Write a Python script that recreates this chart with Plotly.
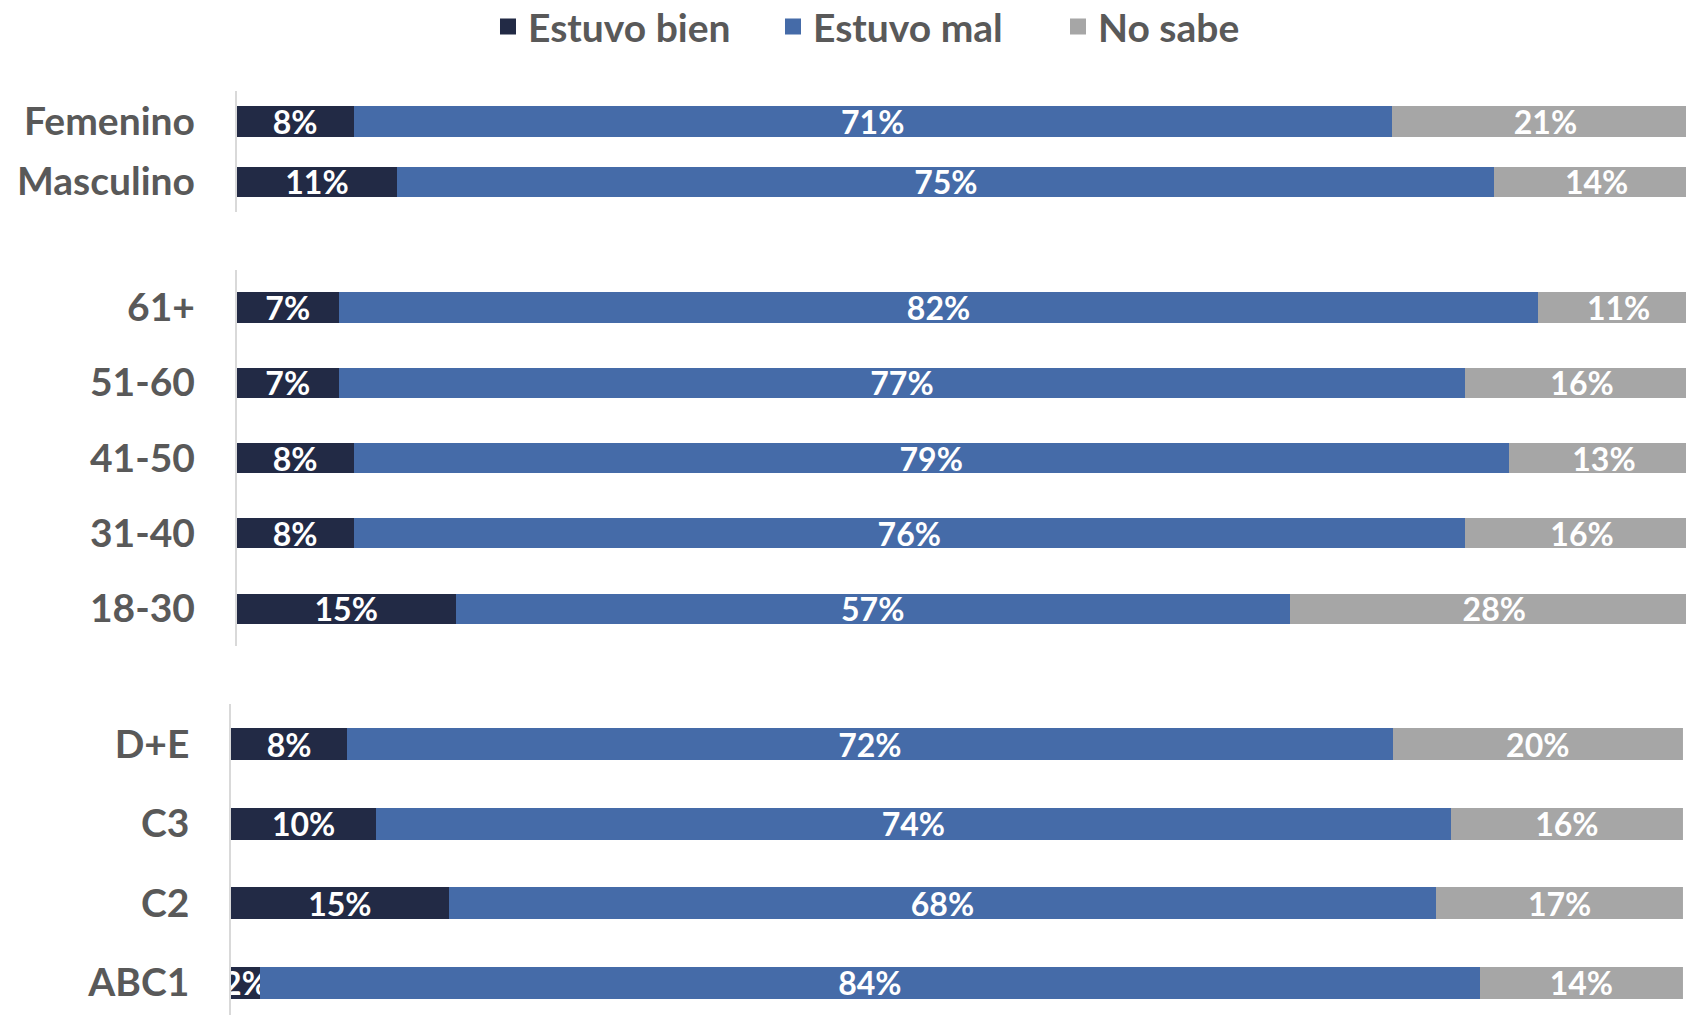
import plotly.graph_objects as go

# ---- data ----
series_names = ["Estuvo bien", "Estuvo mal", "No sabe"]
series_colors = ["#222A45", "#456BA8", "#A6A6A6"]

gender_cats = ["Femenino", "Masculino"]
gender_bien = [8, 11]
gender_mal = [71, 75]
gender_nosabe = [21, 14]

age_cats = ["61+", "51-60", "41-50", "31-40", "18-30"]
age_bien = [7, 7, 8, 8, 15]
age_mal = [82, 77, 79, 76, 57]
age_nosabe = [11, 16, 13, 16, 28]

gse_cats = ["D+E", "C3", "C2", "ABC1"]
gse_bien = [8, 10, 15, 2]
gse_mal = [72, 74, 68, 84]
gse_nosabe = [20, 16, 17, 14]

groups = [
    (gender_cats, [gender_bien, gender_mal, gender_nosabe]),
    (age_cats, [age_bien, age_mal, age_nosabe]),
    (gse_cats, [gse_bien, gse_mal, gse_nosabe]),
]

# ---- layout geometry ----
W, H = 1686, 1015
FONT = "Lato"
LABEL_GRAY = "#595959"
bar_widths = [0.5, 0.4, 0.4]
x_domains = [[0.1403, 1.0], [0.1403, 1.0], [0.1370, 0.9982]]
x_ranges = [[0, 99.11], [0, 99.11], [0, 100]]
y_domains = [[0.7913, 0.9100], [0.3633, 0.7341], [0.0, 0.3062]]
y_ranges = [[1.5, -0.5], [4.5, -0.5], [3.405, -0.5]]

fig = go.Figure()
for gi, (cats, vals) in enumerate(groups):
    suffix = "" if gi == 0 else str(gi + 1)
    for si, name in enumerate(series_names):
        v = vals[si]
        fig.add_trace(go.Bar(
            y=cats, x=v, orientation="h", name=name,
            xaxis="x" + suffix, yaxis="y" + suffix,
            marker=dict(color=series_colors[si], line=dict(width=0)),
            width=bar_widths[gi],
            text=[f"{n}%" for n in v],
            textposition="inside", insidetextanchor="middle", textangle=0,
            textfont=dict(family=FONT, size=32, color="white", weight=700),
            showlegend=False, legendgroup=name,
            hoverinfo="skip",
        ))

# legend entries (square swatches, no data drawn)
for si, name in enumerate(series_names):
    fig.add_trace(go.Scatter(
        x=[None], y=[None], mode="markers", name=name, legendgroup=name,
        marker=dict(symbol="square", size=22, color=series_colors[si]),
        showlegend=True, hoverinfo="skip",
    ))

layout = dict(
    width=W, height=H, autosize=False,
    margin=dict(l=0, r=0, t=0, b=0, autoexpand=False),
    paper_bgcolor="white", plot_bgcolor="white",
    barmode="stack", bargap=0.5,
    uniformtext=dict(minsize=32, mode="show"),
    showlegend=True,
    legend=dict(
        orientation="h", x=0.543, xanchor="center", y=1.0053, yanchor="top",
        font=dict(family=FONT, size=39, color=LABEL_GRAY, weight=700),
        traceorder="normal", itemclick=False, itemsizing="trace",
        entrywidth=240, entrywidthmode="pixels",
    ),
)
for gi, (cats, vals) in enumerate(groups):
    suffix = "" if gi == 0 else str(gi + 1)
    layout["xaxis" + suffix] = dict(
        domain=x_domains[gi], range=x_ranges[gi], visible=False,
        anchor="y" + suffix, fixedrange=True,
    )
    layout["yaxis" + suffix] = dict(
        domain=y_domains[gi], range=y_ranges[gi], anchor="x" + suffix,
        type="category", categoryorder="array", categoryarray=cats,
        showline=True, linecolor="#D9D9D9", linewidth=1.5,
        showgrid=False, zeroline=False, ticks="",
        ticklabelstandoff=32,
        tickfont=dict(family=FONT, size=39, color=LABEL_GRAY, weight=700),
        fixedrange=True,
    )
fig.update_layout(**layout)

fig.write_html(
    "out.html",
    config={"displayModeBar": False},
    post_script="document.body.style.margin='0';document.body.style.overflow='hidden';",
)
